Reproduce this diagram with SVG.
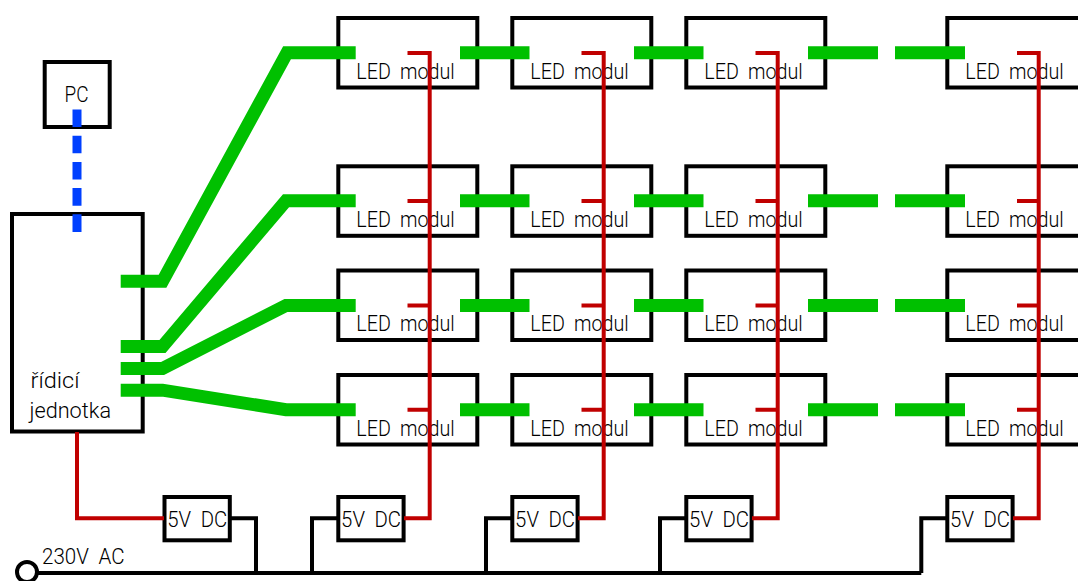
<svg xmlns="http://www.w3.org/2000/svg" width="1078" height="581" viewBox="0 0 1078 581">
<defs>
<style>
.b{fill:none;stroke:#000;stroke-width:4}
.t{font-family:"Roboto","Liberation Sans",sans-serif;font-weight:300;font-size:22px;fill:#000;word-spacing:5px}
.g{fill:none;stroke:#00c000;stroke-width:13}
.r{fill:none;stroke:#c00000;stroke-width:4}
.k{fill:none;stroke:#000;stroke-width:4}
.u{fill:none;stroke:#0040ff;stroke-width:9;stroke-dasharray:17.6 8.6}
</style>
<g id="led"><rect class="b" x="0" y="0" width="139" height="69.500"/><text class="t" x="18" y="60.500" textLength="98.500" lengthAdjust="spacingAndGlyphs">LED modul</text></g>
<g id="psu"><rect class="b" x="0" y="0" width="65.300" height="43.300"/><text class="t" x="2.800" y="29.700" textLength="60" lengthAdjust="spacingAndGlyphs">5V DC</text></g>
</defs>
<g id="n-pc"><rect class="b" x="44.700" y="62" width="65" height="65"/><text class="t" x="64.500" y="102" textLength="24" lengthAdjust="spacingAndGlyphs">PC</text></g>
<g id="n-ctrl"><rect class="b" x="12" y="214" width="130.700" height="217.500"/><text class="t" x="30.500" y="388" textLength="49" lengthAdjust="spacingAndGlyphs">řídicí</text><text class="t" x="29.500" y="417.500" textLength="81.500" lengthAdjust="spacingAndGlyphs">jednotka</text></g>
<g id="n-l11"><use href="#led" x="338.300" y="18"/></g><g id="n-l12"><use href="#led" x="512.300" y="18"/></g><g id="n-l13"><use href="#led" x="686.300" y="18"/></g><g id="n-l14"><use href="#led" x="947.300" y="18"/></g>
<g id="n-l21"><use href="#led" x="338.300" y="166.300"/></g><g id="n-l22"><use href="#led" x="512.300" y="166.300"/></g><g id="n-l23"><use href="#led" x="686.300" y="166.300"/></g><g id="n-l24"><use href="#led" x="947.300" y="166.300"/></g>
<g id="n-l31"><use href="#led" x="338.300" y="270.500"/></g><g id="n-l32"><use href="#led" x="512.300" y="270.500"/></g><g id="n-l33"><use href="#led" x="686.300" y="270.500"/></g><g id="n-l34"><use href="#led" x="947.300" y="270.500"/></g>
<g id="n-l41"><use href="#led" x="338.300" y="375"/></g><g id="n-l42"><use href="#led" x="512.300" y="375"/></g><g id="n-l43"><use href="#led" x="686.300" y="375"/></g><g id="n-l44"><use href="#led" x="947.300" y="375"/></g>
<g id="n-p0"><use href="#psu" x="164.500" y="497"/></g><g id="n-p1"><use href="#psu" x="338.300" y="497"/></g><g id="n-p2"><use href="#psu" x="512.300" y="497"/></g><g id="n-p3"><use href="#psu" x="686.300" y="497"/></g><g id="n-p4"><use href="#psu" x="947.300" y="497"/></g>
<g id="n-ac"><circle class="k" cx="27" cy="572" r="10"/><text class="t" x="42" y="564" textLength="82.500" lengthAdjust="spacingAndGlyphs">230V AC</text></g>
<g id="connectors">
<path class="k" d="M37 573H921.300M230 518.200H256V573M338 518.200H312V573M512 518.200H486V573M686 518.200H660V573M947 518.200H921.300V573"/>
<path class="r" d="M77 432V518.200H164"/>
<path class="r" d="M404 518.200H429.700V53H407.500M578 518.200H603.700V53H581.500M752 518.200H777.700V53H755.500M1013 518.200H1038.700V53H1017"/>
<path class="r" d="M407.500 201H429.700M581.500 201H603.700M755.500 201H777.700M1017 201H1038.700M407.500 305.500H429.700M581.500 305.500H603.700M755.500 305.500H777.700M1017 305.500H1038.700M407.500 409.700H429.700M581.500 409.700H603.700M755.500 409.700H777.700M1017 409.700H1038.700"/>
<path class="u" d="M77 109.500V232"/>
<path class="g" d="M120.700 281.300H162.500L287 52.800H355.700"/>
<path class="g" d="M120.700 346.500H162.500L286 200.800H355.700"/>
<path class="g" d="M120.700 368.500H162.500L286 305.500H355.700"/>
<path class="g" d="M120.700 390.200H162.500L286 409.700H355.700"/>
<path class="g" d="M460 52.800H529.500M634 52.800H703.500M808 52.800H878M895 52.800H965M460 200.800H529.500M634 200.800H703.500M808 200.800H878M895 200.800H965M460 305.500H529.500M634 305.500H703.500M808 305.500H878M895 305.500H965M460 409.700H529.500M634 409.700H703.500M808 409.700H878M895 409.700H965"/>
</g>
</svg>
